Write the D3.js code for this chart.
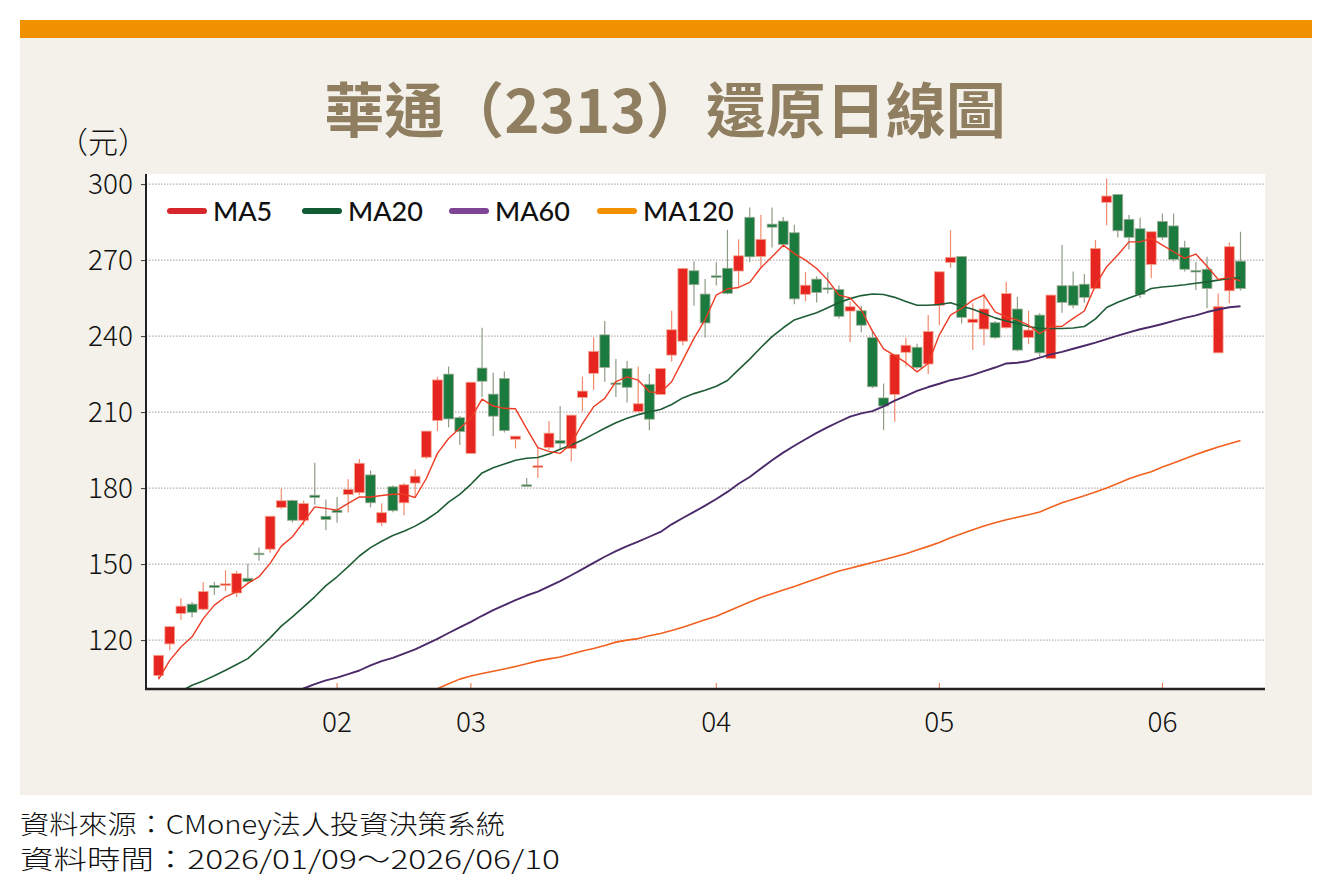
<!DOCTYPE html>
<html>
<head>
<meta charset="utf-8">
<script src="https://cdnjs.cloudflare.com/ajax/libs/d3/7.8.5/d3.min.js"></script>
<style>
  body { margin: 0; background: #ffffff; }
  svg { display: block; }
  .cjk { font-family: "Noto Sans CJK TC", "Noto Sans", sans-serif; }
  .num { font-family: "Noto Sans CJK TC", "Noto Sans", sans-serif; font-weight: 300; }
</style>
</head>
<body>
<div id="vis"></div>
<script>
// ---- data ----
const opens  = [106,118.5,130.5,134.2,132.2,141.6,141.8,138.6,144.4,154.3,155.9,172.4,175.1,167.3,177.2,168.9,
  171.3,177.5,178.2,185.2,166.3,180.5,174.2,182,192.2,206.7,225,207.8,
  193.7,227.4,217.1,223.3,199.3,181.3,188.3,196,198.8,195.6,215.8,225.3,240.5,221.5,227.2,210.2,221,217,232.5,238,265.8,256.6,
  263.8,266.8,265.7,286.9,271.4,284.2,285.4,280.8,256.5,262.5,259,258.4,249.9,250,239.4,215.6,217,233.6,235.6,229,
  252.2,269.1,271.4,245.4,242.8,245.3,243.3,250.7,239.5,248.3,231.2,259.9,259.9,260.5,258.8,292.8,295.9,286.1,282.4,268.3,
  285.3,283.5,274.9,265.9,266.4,233.4,257.9,269.6];
const highs  = [114,125.5,136.5,135,142.8,143,147.6,147.3,150,156.6,169,179.8,175.5,175,190,175.5,
  176.5,183.5,191.5,187,174,181,182,187.4,202.5,224,228,208.5,
  221.8,243.3,225.5,226,200.5,184,196,206.5,212.4,209,224,239.5,246,231,230.2,228,225,227.2,250,267,269.6,262.5,
  269.3,282,278.2,290.8,287.8,290.8,287,284,265.3,263.6,265.2,260,253.8,252,242.4,221.3,232.8,239.4,237,248.3,
  265.4,281.8,271.4,253,256.8,246,261.5,255.5,250,249,256.2,276,265.5,264.5,278,302.2,296,287.8,286.7,281.2,
  288.4,288.4,277.6,269.3,271.3,256.8,277,281.2];
const lows   = [104.5,116,128,129,131.8,137.8,139.4,137,142.4,151.3,154.5,171.7,166.4,165.3,173.5,163.4,
  166.3,170.4,177.2,172.4,165,170.5,169.3,176.5,191.5,202.6,204,197,
  193.7,216,200.5,202,195.6,181,184,195,195,190.5,210.2,218.7,222,216,213.8,210,202.8,217,230,236.4,252,239.5,
  260,256.5,259.5,269.3,267.4,275,276,252.6,253.8,253.3,256.8,247,237.6,241.5,219.5,202.9,206.2,228,227,225,
  244.3,267,245,234.5,236.4,239,243,234,236.8,232,231,249.2,251,253.2,258.5,283.8,278.9,274.2,255,262.8,
  278,269.5,265.5,258.2,251,233.4,253,258];
const closes = [114,125.3,133.4,131,139.2,140.8,142.2,146.3,143.1,154,168.9,175,167.3,173.9,176.3,167.6,
  170.4,179.5,189.8,174.2,170.3,171.1,181.3,184.7,202.5,222.7,207.3,202.3,
  221.8,222.2,208.4,202.7,200.5,181,188.8,201.7,197.7,208.8,218.3,234,227.6,221.1,219.8,213.3,207.2,227.2,242.5,266.7,260.3,245.2,
  263.4,256.9,271.7,271.3,278.2,283,276.2,254.7,260.1,257.2,258.6,247.8,251.6,244.3,220,212.4,232.8,236.4,227.6,241.8,
  265.4,271.1,247.4,246.7,250.7,239.4,256.8,234.5,242.4,233.4,256.2,253.3,252.2,255.3,274.6,295.3,281.6,279,256.5,281.2,
  279,270.3,266.4,265.5,258.8,251.6,275.3,258.8];

const ma5 = [104.6,112,117.3,121.3,128.5,133.8,137.1,139,142.4,145,150.3,157.1,160.8,166.7,172.6,172,
  171.3,174,176.5,176.5,177.1,177.6,177.6,176.3,183.8,193.7,199.6,203.6,
  207.5,215.1,212.4,211.5,211.3,203.5,196,194.5,193.7,197.5,205.5,212.1,215.4,222,223.9,222.6,218,217.7,222,230.5,239.1,246.5,
  256.2,258.6,259.2,261.2,267,271.3,275.9,272.6,270,266.7,262.1,256.2,255.1,250.3,242,235,232.3,229.5,225.9,229.2,
  240.5,248.3,250.9,254.2,256.2,249.6,247.6,246.3,244.3,241,243.7,243.9,247,249.9,260.1,267.4,272,277.2,277.2,278.6,
  275.9,273.3,270.7,272.4,267.6,262.4,263.2,261.8];
const ma20 = [null,null,99.8,102.2,103.9,105.9,108.1,110.4,112.7,116.7,120.9,125.5,129.2,133.1,137.1,141.5,
  145,149,153.2,156.5,159,161.3,163,165,167.5,170.5,174.5,177.5,
  181.5,186,188,189.5,191,191.8,192.1,193.5,195.3,197,199,201.3,203.6,205.8,207.6,209,210.1,211,213,215.6,217.3,218.6,
  220.2,222.5,226.8,230.9,235.5,239.8,243.3,246.4,247.8,249.2,251.2,253.3,254.8,256,256.6,256.4,255.3,253.7,252.2,252.2,
  252.5,253.2,251.8,250.6,248.9,247.2,246,245,243.8,243,243,243,243.2,243.8,246.8,251.3,253.4,255,256.6,258.8,
  259.4,259.8,260.3,260.9,261.4,262.1,262.8,263];
const ma60 = [null,null,null,null,null,null,null,null,null,null,null,null,99,100.9,102.6,104.1,
  105.2,106.6,108,110,111.7,113,114.7,116.3,118.4,120.5,122.8,125,
  127.2,129.6,131.8,133.8,135.8,137.6,139.1,141.2,143.3,145.6,148,150.5,152.9,155.1,157.1,158.9,160.8,162.7,165.7,168.2,170.6,173.1,
  175.7,178.5,181.7,184.4,187.7,191,194,196.7,199.3,201.8,204.1,206.2,208.2,209.5,210.4,212.3,214.5,216.4,218.4,219.9,
  221.2,222.6,223.5,224.7,226.2,227.6,229.2,229.5,230.2,231.5,232.8,233.8,235,236.2,237.4,238.8,240.2,241.5,242.7,243.7,
  244.8,246,247.2,248.2,249.5,250.5,251.4,251.8];
const ma120 = [null,null,null,null,null,null,null,null,null,null,null,null,null,null,null,null,
  null,null,null,null,null,null,null,null,99,100.8,102.8,104.6,
  105.8,106.8,107.7,108.6,109.6,110.7,111.8,112.6,113.3,114.5,115.7,116.7,117.9,119.2,120,120.6,121.7,122.6,123.8,125.1,126.6,128,
  129.4,131.3,133.2,135,136.8,138.3,139.8,141.2,142.7,144.2,145.8,147.3,148.4,149.5,150.6,151.7,152.9,154.1,155.6,157,
  158.5,160.4,162,163.6,165,166.3,167.5,168.5,169.5,170.6,172.4,174.2,175.6,177,178.5,180,181.8,183.7,185.2,186.5,
  188.3,189.9,191.6,193.3,194.8,196.2,197.5,198.8];

const monthLabels = ["02", "03", "04", "05", "06"];
const monthStart  = [16, 28, 50, 70, 90];   // index of first trading day of the month
const yTicks = [120, 150, 180, 210, 240, 270, 300];

const series = [
  { name: "MA5",   values: ma5,   line: "#ee3b24", key: "#d7262b", w: 1.4 },
  { name: "MA20",  values: ma20,  line: "#1e5d35", key: "#0f5b34", w: 1.6 },
  { name: "MA60",  values: ma60,  line: "#4b2a69", key: "#7e4496", w: 1.9 },
  { name: "MA120", values: ma120, line: "#f2611f", key: "#f39200", w: 1.6 }
];

// ---- layout ----
const W = 1332, H = 893;
const plot = { left: 146, right: 1265, top: 174, bottom: 689 };

const svg = d3.select("#vis").append("svg").attr("width", W).attr("height", H);

svg.append("rect").attr("x", 20).attr("y", 20).attr("width", 1292).attr("height", 775).attr("fill", "#f4f1ea");
svg.append("rect").attr("x", 20).attr("y", 20).attr("width", 1292).attr("height", 18).attr("fill", "#f29100");

svg.append("text").attr("class", "cjk")
  .attr("x", 665).attr("y", 133).attr("text-anchor", "middle")
  .attr("font-size", 60).attr("font-weight", 700).attr("fill", "#8f7e60")
  .text("華通（2313）還原日線圖");

svg.append("text").attr("class", "cjk")
  .attr("x", 58).attr("y", 153).attr("font-size", 30).attr("font-weight", 300).attr("fill", "#111")
  .text("（元）");

svg.append("rect").attr("x", plot.left).attr("y", plot.top)
  .attr("width", plot.right - plot.left).attr("height", plot.bottom - plot.top).attr("fill", "#ffffff");

const n = closes.length;
const x = d3.scaleBand().domain(d3.range(n)).range([153.7, 1245.4]).paddingInner(0.12);
const y = d3.scaleLinear().domain([100.7, 303.6]).range([plot.bottom, plot.top + 1]);
const cx = i => x(i) + x.bandwidth() / 2;

// grid
svg.append("g").selectAll("line").data(yTicks).join("line")
  .attr("x1", plot.left).attr("x2", plot.right)
  .attr("y1", d => y(d)).attr("y2", d => y(d))
  .attr("stroke", "#a39a98").attr("stroke-width", 1).attr("stroke-dasharray", "1.5,1.5");

// y axis
const yAxis = svg.append("g").attr("transform", `translate(${plot.left},0)`)
  .call(d3.axisLeft(y).tickValues(yTicks).tickSize(5).tickPadding(8));
yAxis.select(".domain").remove();
yAxis.selectAll(".tick line").attr("stroke", "#333");
yAxis.selectAll("text").attr("class", "num").attr("font-size", 28).attr("fill", "#111");

// month ticks + labels
svg.append("g").selectAll("line").data(monthStart).join("line")
  .attr("x1", d => cx(d)).attr("x2", d => cx(d))
  .attr("y1", plot.bottom).attr("y2", plot.bottom - 6)
  .attr("stroke", "#e0773f").attr("stroke-width", 1);
svg.append("g").selectAll("text").data(monthLabels).join("text")
  .attr("class", "num")
  .attr("x", (d, i) => cx(monthStart[i])).attr("y", 732)
  .attr("text-anchor", "middle").attr("font-size", 28).attr("fill", "#111")
  .text(d => d);

// candles
const candles = svg.append("g").selectAll("g").data(d3.range(n)).join("g");
const up = i => closes[i] >= opens[i];
candles.append("line")
  .attr("x1", i => cx(i)).attr("x2", i => cx(i))
  .attr("y1", i => y(highs[i])).attr("y2", i => y(lows[i]))
  .attr("stroke", i => up(i) ? "#f08a6c" : "#8e9c86").attr("stroke-width", 1.2);
candles.append("rect")
  .attr("x", i => x(i)).attr("width", x.bandwidth())
  .attr("y", i => y(Math.max(opens[i], closes[i])))
  .attr("height", i => Math.max(1.5, Math.abs(y(opens[i]) - y(closes[i]))))
  .attr("fill", i => up(i) ? "#e62521" : "#1b7b3f")
  .attr("stroke", i => up(i) ? "#f6a48c" : "#a3ad98").attr("stroke-width", 0.8);

// moving averages
svg.append("clipPath").attr("id", "clip").append("rect")
  .attr("x", plot.left).attr("y", plot.top).attr("width", plot.right - plot.left).attr("height", plot.bottom - plot.top);
const line = d3.line().defined(d => d[1] != null).x(d => cx(d[0])).y(d => y(d[1]));
svg.append("g").attr("clip-path", "url(#clip)").selectAll("path").data(series.slice().reverse()).join("path")
  .attr("fill", "none").attr("stroke", s => s.line).attr("stroke-width", s => s.w)
  .attr("stroke-linejoin", "round")
  .attr("d", s => line(s.values.map((v, i) => [i, v])));

// axis lines
svg.append("line").attr("x1", plot.left).attr("x2", plot.left).attr("y1", plot.top).attr("y2", plot.bottom + 1)
  .attr("stroke", "#222").attr("stroke-width", 2);
svg.append("line").attr("x1", plot.left - 1).attr("x2", plot.right).attr("y1", plot.bottom).attr("y2", plot.bottom)
  .attr("stroke", "#222").attr("stroke-width", 2.5);

// legend
const legendX = [170, 305, 452, 600];
const lg = svg.append("g").selectAll("g").data(series).join("g")
  .attr("transform", (d, i) => `translate(${legendX[i]},211)`);
lg.append("line").attr("x1", 0).attr("x2", 34).attr("stroke", d => d.key)
  .attr("stroke-width", 6).attr("stroke-linecap", "round");
lg.append("text").attr("x", 43).attr("dy", "0.36em")
  .attr("font-family", "Lato, 'Noto Sans', sans-serif").attr("font-size", 27).attr("font-weight", 500)
  .attr("fill", "#111").text(d => d.name);

// source notes
svg.append("text").attr("class", "num").attr("x", 20).attr("y", 834).attr("font-size", 26).attr("fill", "#111")
  .attr("textLength", 485).attr("lengthAdjust", "spacingAndGlyphs")
  .text("資料來源：CMoney法人投資決策系統");
svg.append("text").attr("class", "num").attr("x", 20).attr("y", 869).attr("font-size", 26).attr("fill", "#111")
  .attr("textLength", 540).attr("lengthAdjust", "spacingAndGlyphs")
  .text("資料時間：2026/01/09～2026/06/10");
</script>
</body>
</html>
